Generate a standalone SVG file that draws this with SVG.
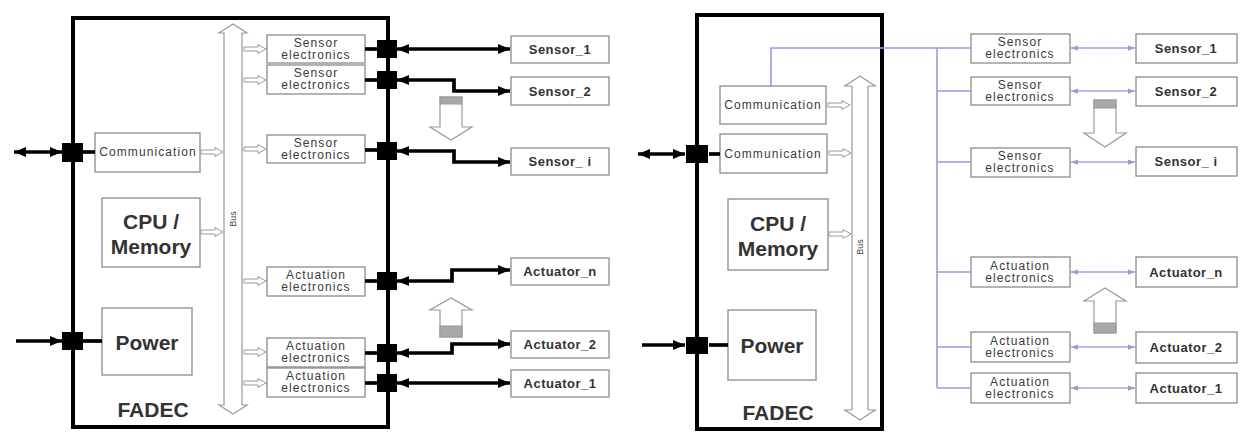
<svg xmlns="http://www.w3.org/2000/svg" xmlns:xlink="http://www.w3.org/1999/xlink" width="1242" height="432" viewBox="0 0 1242 432">
<style>
.fadec{fill:none;stroke:#000;stroke-width:4}
.box{fill:#fff;stroke:#8a8a8a;stroke-width:1.3}
.sq{fill:#000}
.thick{fill:none;stroke:#000;stroke-width:3.7}
.blue{fill:none;stroke:#9999e8;stroke-width:1.6}
.thin{fill:none;stroke:#a4a4dc;stroke-width:1.3}
.hollow{fill:#fff;stroke:#9a9a9a;stroke-width:1.2}
.band{fill:#a8a8a8;stroke:#9a9a9a;stroke-width:1}
.small{font-family:"Liberation Sans",Arial,sans-serif;font-size:12px;letter-spacing:1.1px;fill:#3a3a3a;text-anchor:middle}
.lab{font-family:"Liberation Sans",Arial,sans-serif;font-size:13px;font-weight:bold;letter-spacing:0.5px;fill:#333;text-anchor:middle}
.big{font-family:"Liberation Sans",Arial,sans-serif;font-size:21px;font-weight:bold;fill:#333;text-anchor:middle}
.bus{font-family:"Liberation Sans",Arial,sans-serif;font-size:9px;fill:#444;text-anchor:middle}
</style>
<defs>
<marker id="ah" viewBox="0 0 12 10" refX="12" refY="5" markerWidth="12" markerHeight="10" orient="auto-start-reverse" markerUnits="userSpaceOnUse"><path d="M0,0 L12,5 L0,10 z" fill="#000"/></marker>
<marker id="bh" viewBox="0 0 8 6" refX="8" refY="3" markerWidth="7" markerHeight="6" orient="auto-start-reverse" markerUnits="userSpaceOnUse"><path d="M0,0 L8,3 L0,6 z" fill="#9a9ad8"/></marker>
<path id="sa" d="M0,-2 H14 V-4.5 L22,0 L14,4.5 V2 H0 Z" fill="#fff" stroke="#9a9a9a" stroke-width="1"/>
</defs>
<rect width="1242" height="432" fill="#fff"/>

<!-- LEFT DIAGRAM -->
<g id="fadec-left">
<rect class="fadec" x="73" y="18" width="315" height="409"/>
<text class="big" x="153" y="417" font-size="20">FADEC</text>
</g>
<g id="bus-left">
<path class="hollow" d="M224,33 H219 L233,24 L247,33 H242 V405 H247 L233,414 L219,405 H224 Z"/>
<text class="bus" transform="translate(236,219) rotate(-90)">Bus</text>
</g>
<g id="comm-left">
<rect class="box" x="95" y="133" width="105" height="39"/>
<text class="small" x="148" y="156" letter-spacing="0.9">Communication</text>
</g>
<g id="cpu-left">
<rect class="box" x="102" y="198" width="98" height="69"/>
<text class="big" x="151" y="229">CPU /</text>
<text class="big" x="151" y="254">Memory</text>
</g>
<g id="power-left">
<rect class="box" x="102" y="308" width="90" height="67"/>
<text class="big" x="147" y="350">Power</text>
</g>
<g id="se1-left"><rect class="box" x="267" y="35" width="98" height="28"/><text class="small" x="316" y="47">Sensor</text><text class="small" x="316" y="59">electronics</text></g>
<g id="se2-left"><rect class="box" x="267" y="65" width="98" height="29"/><text class="small" x="316" y="77">Sensor</text><text class="small" x="316" y="89">electronics</text></g>
<g id="se3-left"><rect class="box" x="267" y="135" width="98" height="28"/><text class="small" x="316" y="147">Sensor</text><text class="small" x="316" y="159">electronics</text></g>
<g id="ae1-left"><rect class="box" x="267" y="267" width="98" height="29"/><text class="small" x="316" y="279">Actuation</text><text class="small" x="316" y="291">electronics</text></g>
<g id="ae2-left"><rect class="box" x="267" y="338" width="98" height="29"/><text class="small" x="316" y="350">Actuation</text><text class="small" x="316" y="362">electronics</text></g>
<g id="ae3-left"><rect class="box" x="267" y="368" width="98" height="29"/><text class="small" x="316" y="380">Actuation</text><text class="small" x="316" y="392">electronics</text></g>

<g id="s1-left"><rect class="box" x="511" y="36" width="98" height="27"/><text class="lab" x="560" y="54">Sensor_1</text></g>
<g id="s2-left"><rect class="box" x="511" y="77" width="98" height="28"/><text class="lab" x="560" y="96">Sensor_2</text></g>
<g id="si-left"><rect class="box" x="511" y="148" width="98" height="27"/><text class="lab" x="560" y="166">Sensor_ i</text></g>
<g id="an-left"><rect class="box" x="511" y="258" width="98" height="27"/><text class="lab" x="560" y="276">Actuator_n</text></g>
<g id="a2-left"><rect class="box" x="511" y="331" width="98" height="27"/><text class="lab" x="560" y="349">Actuator_2</text></g>
<g id="a1-left"><rect class="box" x="511" y="370" width="98" height="27"/><text class="lab" x="560" y="388">Actuator_1</text></g>

<g id="darrow-left">
<path class="hollow" d="M440,97 H462 V127 H472 L451,140 L430,127 H440 Z"/>
<rect class="band" x="440" y="97" width="22" height="7"/>
</g>
<g id="uarrow-left">
<path class="hollow" d="M440,337 H462 V310 H472 L451,298 L430,310 H440 Z"/>
<rect class="band" x="440" y="326" width="22" height="11"/>
</g>

<g id="connectors-left">
<use xlink:href="#sa" x="244" y="49"/>
<use xlink:href="#sa" x="244" y="80"/>
<use xlink:href="#sa" x="244" y="149"/>
<use xlink:href="#sa" x="244" y="281"/>
<use xlink:href="#sa" x="244" y="352"/>
<use xlink:href="#sa" x="244" y="383"/>
<use xlink:href="#sa" x="201" y="152"/>
<use xlink:href="#sa" x="201" y="232"/>
<path class="thick" d="M365,49 H378"/>
<path class="thick" d="M365,80 H378"/>
<path class="thick" d="M365,150 H378"/>
<path class="thick" d="M365,281 H378"/>
<path class="thick" d="M365,353 H378"/>
<path class="thick" d="M365,383 H378"/>
<path class="thick" d="M397,49 H510" marker-start="url(#ah)" marker-end="url(#ah)"/>
<path class="thick" d="M397,80 H454 V91 H510" marker-start="url(#ah)" marker-end="url(#ah)"/>
<path class="thick" d="M397,151 H454 V162 H510" marker-start="url(#ah)" marker-end="url(#ah)"/>
<path class="thick" d="M397,281 H452 V270 H510" marker-start="url(#ah)" marker-end="url(#ah)"/>
<path class="thick" d="M397,353 H452 V344 H510" marker-start="url(#ah)" marker-end="url(#ah)"/>
<path class="thick" d="M397,383 H510" marker-start="url(#ah)" marker-end="url(#ah)"/>
<path class="thick" d="M14,152 H62" marker-start="url(#ah)" marker-end="url(#ah)"/>
<path class="thick" d="M83,152 H95"/>
<path class="thick" d="M16,341 H62" marker-end="url(#ah)"/>
<path class="thick" d="M83,341 H102"/>
<rect class="sq" x="377" y="40" width="20" height="18"/>
<rect class="sq" x="377" y="71" width="20" height="18"/>
<rect class="sq" x="377" y="142" width="20" height="18"/>
<rect class="sq" x="377" y="272" width="20" height="18"/>
<rect class="sq" x="377" y="344" width="20" height="18"/>
<rect class="sq" x="377" y="374" width="20" height="18"/>
<rect class="sq" x="62" y="143" width="21" height="19"/>
<rect class="sq" x="62" y="332" width="21" height="18"/>
</g>

<!-- RIGHT DIAGRAM -->
<g id="fadec-right">
<rect class="fadec" x="697" y="15" width="185" height="414"/>
<text class="big" x="778" y="420" font-size="20">FADEC</text>
</g>
<g id="bus-right">
<path class="hollow" d="M852,86 H845 L860,76 L875,86 H868 V410 H875 L860,420 L845,410 H852 Z"/>
<text class="bus" transform="translate(863,247) rotate(-90)">Bus</text>
</g>
<g id="comm1-right">
<rect class="box" x="720" y="86" width="106" height="38"/>
<text class="small" x="773" y="109" letter-spacing="0.9">Communication</text>
</g>
<g id="comm2-right">
<rect class="box" x="720" y="134" width="107" height="39"/>
<text class="small" x="773" y="158" letter-spacing="0.9">Communication</text>
</g>
<g id="cpu-right">
<rect class="box" x="728" y="199" width="100" height="71"/>
<text class="big" x="778" y="231">CPU /</text>
<text class="big" x="778" y="256">Memory</text>
</g>
<g id="power-right">
<rect class="box" x="728" y="310" width="88" height="70"/>
<text class="big" x="772" y="353">Power</text>
</g>
<g id="se1-right"><rect class="box" x="971" y="34" width="99" height="29"/><text class="small" x="1020" y="46">Sensor</text><text class="small" x="1020" y="58">electronics</text></g>
<g id="se2-right"><rect class="box" x="971" y="77" width="99" height="28"/><text class="small" x="1020" y="89">Sensor</text><text class="small" x="1020" y="101">electronics</text></g>
<g id="se3-right"><rect class="box" x="971" y="148" width="99" height="29"/><text class="small" x="1020" y="160">Sensor</text><text class="small" x="1020" y="172">electronics</text></g>
<g id="ae1-right"><rect class="box" x="971" y="257" width="99" height="30"/><text class="small" x="1020" y="270">Actuation</text><text class="small" x="1020" y="282">electronics</text></g>
<g id="ae2-right"><rect class="box" x="971" y="332" width="99" height="30"/><text class="small" x="1020" y="345">Actuation</text><text class="small" x="1020" y="357">electronics</text></g>
<g id="ae3-right"><rect class="box" x="971" y="373" width="99" height="30"/><text class="small" x="1020" y="386">Actuation</text><text class="small" x="1020" y="398">electronics</text></g>

<g id="s1-right"><rect class="box" x="1136" y="34" width="101" height="29"/><text class="lab" x="1186" y="53">Sensor_1</text></g>
<g id="s2-right"><rect class="box" x="1136" y="77" width="101" height="29"/><text class="lab" x="1186" y="96">Sensor_2</text></g>
<g id="si-right"><rect class="box" x="1136" y="147" width="101" height="29"/><text class="lab" x="1186" y="166">Sensor_ i</text></g>
<g id="an-right"><rect class="box" x="1136" y="257" width="101" height="30"/><text class="lab" x="1186" y="277">Actuator_n</text></g>
<g id="a2-right"><rect class="box" x="1136" y="332" width="101" height="31"/><text class="lab" x="1186" y="352">Actuator_2</text></g>
<g id="a1-right"><rect class="box" x="1136" y="373" width="101" height="30"/><text class="lab" x="1186" y="393">Actuator_1</text></g>

<g id="darrow-right">
<path class="hollow" d="M1094,100 H1116 V133 H1126 L1105,147 L1084,133 H1094 Z"/>
<rect class="band" x="1094" y="100" width="22" height="8"/>
</g>
<g id="uarrow-right">
<path class="hollow" d="M1094,333 H1116 V301 H1126 L1105,288 L1084,301 H1094 Z"/>
<rect class="band" x="1094" y="323" width="22" height="10"/>
</g>

<g id="connectors-right">
<use xlink:href="#sa" x="828" y="105"/>
<use xlink:href="#sa" x="829" y="153"/>
<use xlink:href="#sa" x="829" y="234"/>
<path class="blue" d="M771,86 V48 H971"/>
<path class="blue" d="M937,48 V388"/>
<path class="blue" d="M937,91 H971"/>
<path class="blue" d="M937,162 H971"/>
<path class="blue" d="M937,272 H971"/>
<path class="blue" d="M937,347 H971"/>
<path class="blue" d="M937,388 H971"/>
<path class="thin" d="M1071,48 H1135" marker-start="url(#bh)" marker-end="url(#bh)"/>
<path class="thin" d="M1071,91 H1135" marker-start="url(#bh)" marker-end="url(#bh)"/>
<path class="thin" d="M1071,162 H1135" marker-start="url(#bh)" marker-end="url(#bh)"/>
<path class="thin" d="M1071,272 H1135" marker-start="url(#bh)" marker-end="url(#bh)"/>
<path class="thin" d="M1071,347 H1135" marker-start="url(#bh)" marker-end="url(#bh)"/>
<path class="thin" d="M1071,388 H1135" marker-start="url(#bh)" marker-end="url(#bh)"/>
<path class="thick" d="M638,154 H685" marker-start="url(#ah)" marker-end="url(#ah)"/>
<path class="thick" d="M709,154 H720"/>
<path class="thick" d="M642,345 H685" marker-end="url(#ah)"/>
<path class="thick" d="M709,345 H728"/>
<rect class="sq" x="686" y="145" width="22" height="18"/>
<rect class="sq" x="686" y="337" width="22" height="17"/>
</g>
</svg>
